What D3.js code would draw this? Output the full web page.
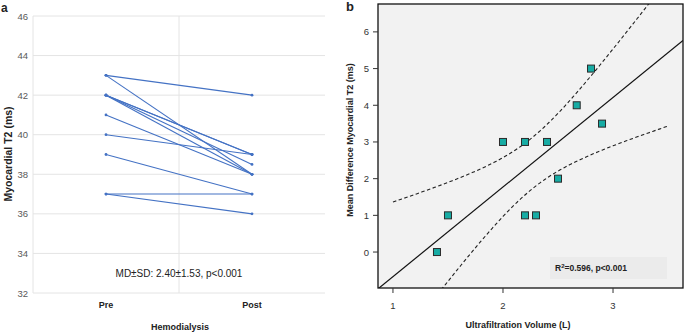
<!DOCTYPE html>
<html lang="en">
<head>
<meta charset="UTF-8">
<title>T2 hemodialysis</title>
<style>
    body { margin: 0; background: #fff; }
    svg { display: block; font-family: "Liberation Sans", Arial, sans-serif; }
    .grid line { stroke: #e4e4e4; stroke-width: 1; }
    .tickA { fill: #595959; font-size: 9.5px; }
    .bold { font-weight: bold; fill: #222; }
</style>
</head>
<body>
<svg></svg>
<script src="https://d3js.org/d3.v7.min.js"></script>
<script>
let width = 685, height = 332;

// panel a: myocardial T2 before / after hemodialysis (one pair per patient)
let phases = ["Pre", "Post"];
let preT2  = [43, 43, 42, 42, 42, 42, 41, 40, 39, 37, 37];
let postT2 = [42, 38, 39, 39, 38.5, 38, 38, 39, 37, 37, 36];
let yTicksA = [32, 34, 36, 38, 40, 42, 44, 46];

// panel b: ultrafiltration volume vs T2 drop
let ufVolume = [1.4, 1.5, 2.0, 2.2, 2.2, 2.3, 2.4, 2.5, 2.67, 2.8, 2.9];
let meanDiff = [0, 1, 3, 3, 1, 1, 3, 2, 4, 5, 3.5];
let xTicksB = [1, 2, 3];
let yTicksB = [0, 1, 2, 3, 4, 5, 6];

let svg = d3.select("svg").attr("width", width).attr("height", height);

// ---------- panel a ----------
let xA = d3.scaleBand().domain(phases).range([33, 325]);
let yA = d3.scaleLinear().domain([32, 46]).range([293, 16]);

let gA = svg.append("g");
let grid = gA.append("g").attr("class", "grid");
grid.selectAll(".h").data(yTicksA).enter().append("line")
    .attr("x1", 33).attr("x2", 325)
    .attr("y1", d => yA(d)).attr("y2", d => yA(d));
grid.append("line")
    .attr("x1", xA("Post")).attr("x2", xA("Post"))
    .attr("y1", yA(46)).attr("y2", yA(32));
grid.append("line")
    .attr("x1", 33).attr("x2", 33)
    .attr("y1", yA(46)).attr("y2", yA(32));

gA.selectAll(".tickA").data(yTicksA).enter().append("text")
    .attr("class", "tickA")
    .attr("x", 28).attr("y", d => yA(d) + 3.5)
    .attr("text-anchor", "end")
    .text(d => d);

let cx = p => xA(p) + xA.bandwidth() / 2;
let pairs = preT2.map((v, i) => [v, postT2[i]]);

gA.selectAll(".pair").data(pairs).enter().append("line")
    .attr("x1", cx("Pre")).attr("x2", cx("Post"))
    .attr("y1", d => yA(d[0])).attr("y2", d => yA(d[1]))
    .attr("stroke", "#4472c4").attr("stroke-width", 1.1);
pairs.forEach(d => {
    gA.append("circle").attr("cx", cx("Pre")).attr("cy", yA(d[0])).attr("r", 1.4).attr("fill", "#4472c4");
    gA.append("circle").attr("cx", cx("Post")).attr("cy", yA(d[1])).attr("r", 1.4).attr("fill", "#4472c4");
});

gA.selectAll(".cat").data(phases).enter().append("text")
    .attr("class", "bold").attr("font-size", 9)
    .attr("x", d => cx(d)).attr("y", 308)
    .attr("text-anchor", "middle")
    .text(d => d);

gA.append("text").attr("class", "bold").attr("font-size", 9)
    .attr("x", 180).attr("y", 330).attr("text-anchor", "middle")
    .text("Hemodialysis");

gA.append("text").attr("class", "bold").attr("font-size", 10.5)
    .attr("transform", "translate(12,154) rotate(-90)")
    .attr("text-anchor", "middle")
    .text("Myocardial T2 (ms)");

gA.append("text").attr("font-size", 10).attr("fill", "#222")
    .attr("x", 179).attr("y", 277).attr("text-anchor", "middle")
    .text("MD±SD: 2.40±1.53, p<0.001");

svg.append("text").attr("class", "bold").attr("font-size", 12)
    .attr("x", 1).attr("y", 12).text("a");

// ---------- panel b ----------
let x0 = 378, x1 = 683, y0 = 4, y1 = 288;
let xB = d3.scaleLinear().domain([0.864, 3.636]).range([x0, x1]);
let yB = d3.scaleLinear().domain([-0.98, 6.76]).range([y1, y0]);

let gB = svg.append("g");
gB.append("clipPath").attr("id", "clipB").append("rect")
    .attr("x", x0).attr("y", y0).attr("width", x1 - x0).attr("height", y1 - y0);

gB.append("rect").attr("x", x0).attr("y", y0)
    .attr("width", x1 - x0).attr("height", y1 - y0)
    .attr("fill", "#f2f2f2");

// least squares fit and 95% confidence band of the mean
let n = ufVolume.length;
let mx = d3.mean(ufVolume), my = d3.mean(meanDiff);
let sxx = d3.sum(ufVolume, v => (v - mx) * (v - mx));
let sxy = d3.sum(ufVolume, (v, i) => (v - mx) * (meanDiff[i] - my));
let slope = sxy / sxx, icpt = my - slope * mx;
let sse = d3.sum(ufVolume, (v, i) => Math.pow(meanDiff[i] - (icpt + slope * v), 2));
let s = Math.sqrt(sse / (n - 2));
let t = 2.262;
let band = d3.range(1, 3.501, 0.02).map(v => {
    let yh = icpt + slope * v;
    let h = t * s * Math.sqrt(1 / n + (v - mx) * (v - mx) / sxx);
    return {x: v, lo: yh - h, hi: yh + h};
});

let plot = gB.append("g").attr("clip-path", "url(#clipB)");
plot.append("line")
    .attr("x1", xB(0.864)).attr("y1", yB(icpt + slope * 0.864))
    .attr("x2", xB(3.636)).attr("y2", yB(icpt + slope * 3.636))
    .attr("stroke", "#111").attr("stroke-width", 1.2);
["lo", "hi"].forEach(k => {
    plot.append("path").datum(band)
        .attr("d", d3.line().x(d => xB(d.x)).y(d => yB(d[k])))
        .attr("fill", "none").attr("stroke", "#222")
        .attr("stroke-width", 1.1).attr("stroke-dasharray", "3.5,2.5");
});

gB.append("rect").attr("x", 550).attr("y", 257).attr("width", 117).attr("height", 22)
    .attr("fill", "#ebebeb");
gB.append("text").attr("class", "bold").attr("font-size", 8.5)
    .attr("x", 555).attr("y", 271)
    .html('R<tspan dy="-3" font-size="6">2</tspan><tspan dy="3">=0.596, p&lt;0.001</tspan>');

gB.selectAll(".pt").data(ufVolume).enter().append("rect")
    .attr("x", d => xB(d) - 3.5)
    .attr("y", (d, i) => yB(meanDiff[i]) - 3.5)
    .attr("width", 7).attr("height", 7)
    .attr("fill", "#17aca4").attr("stroke", "#2b2b2b").attr("stroke-width", 1);

gB.append("rect").attr("x", x0).attr("y", y0)
    .attr("width", x1 - x0).attr("height", y1 - y0)
    .attr("fill", "none").attr("stroke", "#111").attr("stroke-width", 1.3);

gB.selectAll(".yt").data(yTicksB).enter().append("line")
    .attr("x1", x0 - 5).attr("x2", x0)
    .attr("y1", d => yB(d)).attr("y2", d => yB(d))
    .attr("stroke", "#333");
gB.selectAll(".ytl").data(yTicksB).enter().append("text")
    .attr("font-size", 9.5).attr("fill", "#333")
    .attr("x", 369).attr("y", d => yB(d) + 3.5)
    .attr("text-anchor", "end").text(d => d);

gB.selectAll(".xt").data(xTicksB).enter().append("line")
    .attr("x1", d => xB(d)).attr("x2", d => xB(d))
    .attr("y1", y1).attr("y2", y1 + 5)
    .attr("stroke", "#333");
gB.selectAll(".xtl").data(xTicksB).enter().append("text")
    .attr("font-size", 9.5).attr("fill", "#333")
    .attr("x", d => xB(d)).attr("y", 309)
    .attr("text-anchor", "middle").text(d => d);

gB.append("text").attr("class", "bold").attr("font-size", 9)
    .attr("x", 518).attr("y", 328).attr("text-anchor", "middle")
    .text("Ultrafiltration Volume (L)");
gB.append("text").attr("class", "bold").attr("font-size", 9)
    .attr("transform", "translate(353,140) rotate(-90)")
    .attr("text-anchor", "middle")
    .text("Mean Difference Myocardial T2 (ms)");

svg.append("text").attr("class", "bold").attr("font-size", 13)
    .attr("x", 346).attr("y", 11).text("b");
</script>
</body>
</html>
